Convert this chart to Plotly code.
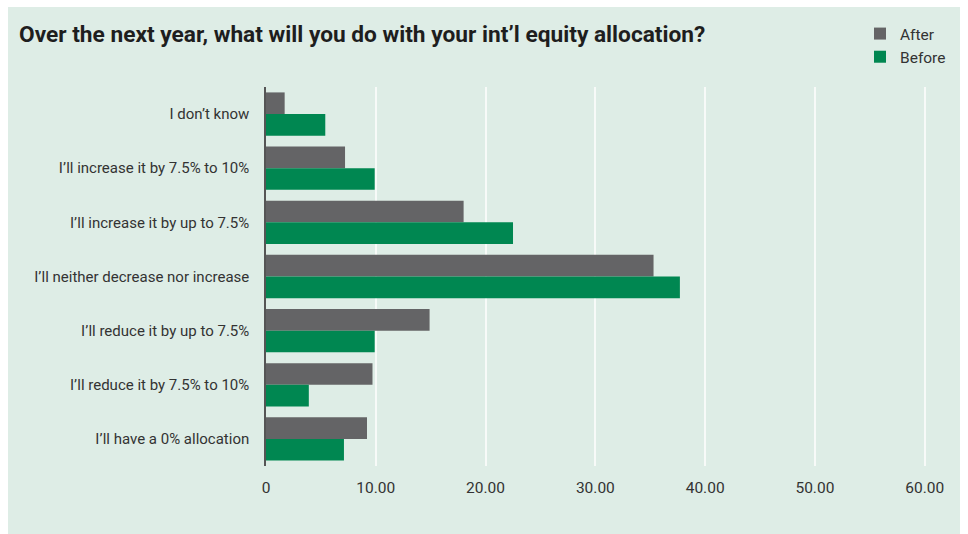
import plotly.graph_objects as go

# Survey answers, listed top to bottom
categories = [
    "I\u00a0don\u2019t know",
    "I\u2019ll increase it by 7.5% to 10%",
    "I\u2019ll increase it by up to 7.5%",
    "I\u2019ll neither decrease nor increase",
    "I\u2019ll reduce it by up to 7.5%",
    "I\u2019ll reduce it by 7.5% to 10%",
    "I\u2019ll have a 0% allocation",
]
after_values = [1.7, 7.2, 18.0, 35.3, 14.9, 9.7, 9.2]
before_values = [5.4, 9.9, 22.5, 37.7, 9.9, 3.9, 7.1]

tick_values = [0, 10, 20, 30, 40, 50, 60]
tick_labels = ["0", "10.00", "20.00", "30.00", "40.00", "50.00", "60.00"]

GREY = "#646466"
GREEN = "#008751"
PANEL = "#DEEDE6"
TEXT = "#333333"
FONT = "Roboto, Liberation Sans, sans-serif"
TITLE_FONT = "Roboto, DejaVu Sans Condensed, sans-serif"

fig = go.Figure()
fig.add_trace(go.Bar(
    name="After", y=categories, x=after_values, orientation="h",
    marker=dict(color=GREY, line=dict(width=0)),
))
fig.add_trace(go.Bar(
    name="Before", y=categories, x=before_values, orientation="h",
    marker=dict(color=GREEN, line=dict(width=0)),
))

W, H = 968, 534
L, R, T, B = 266, 40, 87, 68
pw = W - L - R
ph = H - T - B


def px_x(p):
    return (p - L) / pw


def px_y(p):
    return (H - B - p) / ph


# light green panel behind the chart, inset from the page edges
fig.add_shape(
    type="rect", xref="paper", yref="paper", layer="below",
    x0=px_x(8), x1=px_x(960), y0=px_y(534), y1=px_y(7),
    fillcolor=PANEL, line=dict(width=0),
)

fig.update_layout(
    width=W, height=H,
    margin=dict(l=L, r=R, t=T, b=B, pad=0, autoexpand=False),
    paper_bgcolor="white",
    plot_bgcolor="rgba(0,0,0,0)",
    barmode="group",
    bargap=0.2,
    bargroupgap=0,
    font=dict(family=FONT, size=15, color=TEXT),
    title=dict(
        text="<b>Over the next year, what will you do with your int\u2019l equity allocation?</b>",
        x=19 / W, xref="container", xanchor="left",
        y=1 - 34 / H, yref="container", yanchor="middle",
        font=dict(family=TITLE_FONT, size=22.7, color="#1e1e1e"),
    ),
    legend=dict(
        x=px_x(860), y=px_y(17), xanchor="left", yanchor="top",
        bgcolor="rgba(0,0,0,0)", font=dict(family=FONT, size=15.5, color=TEXT),
        itemsizing="constant", tracegroupgap=0,
    ),
    showlegend=True,
)

# range runs a touch past 60 so the last gridline stays visible
fig.update_xaxes(
    range=[0, 60.3],
    tickvals=tick_values, ticktext=tick_labels,
    showgrid=True, gridcolor="#F7FAF8", gridwidth=1.5,
    zeroline=False, showline=False, ticks="",
    tickfont=dict(family=FONT, size=15.5, color=TEXT),
    ticklabelstandoff=10, automargin=False,
)
fig.update_yaxes(
    autorange="reversed",
    showgrid=False, zeroline=False,
    showline=True, linecolor="#555555", linewidth=1.5,
    ticks="", ticklabelstandoff=12, automargin=False,
    tickfont=dict(family=FONT, size=15, color=TEXT),
)

fig.write_html("out.html")
